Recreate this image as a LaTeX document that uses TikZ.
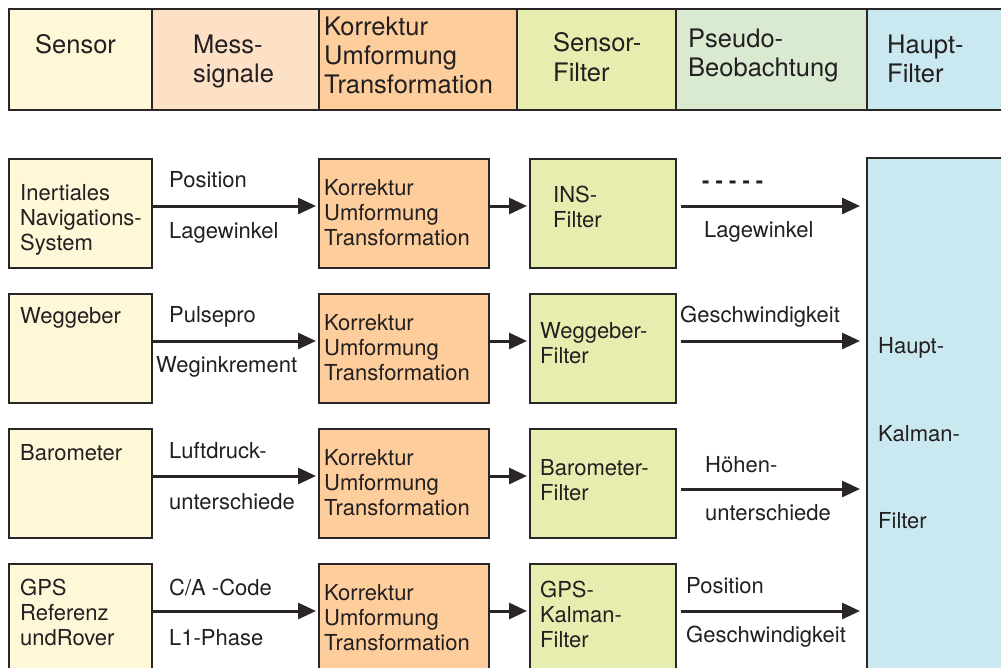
\documentclass[tikz,border=0pt]{standalone}
\usepackage{fontspec}
\setmainfont{TeX Gyre Heros}
\usetikzlibrary{arrows.meta}
\definecolor{cSens}{HTML}{FEF8D8}
\definecolor{cMess}{HTML}{FDE1C6}
\definecolor{cKorr}{HTML}{FDCD9B}
\definecolor{cFilt}{HTML}{E7EDAF}
\definecolor{cPseu}{HTML}{D9EAD1}
\definecolor{cHaup}{HTML}{C9E8EF}
\definecolor{lc}{HTML}{2A2627}
\definecolor{tc}{HTML}{231F20}
\begin{document}
\begin{tikzpicture}[x=1pt,y=-1pt,
  box/.style={draw=lc, line width=1.8pt, anchor=north west, inner sep=0pt},
  txt/.style={anchor=base west, inner sep=0pt, text=tc, font=\fontsize{22}{25}\selectfont},
  htxt/.style={anchor=base west, inner sep=0pt, text=tc, font=\fontsize{25.5}{29}\selectfont},
  arr/.style={line width=3pt, draw=lc, -{Triangle[length=18pt,width=16pt]}}]
\useasboundingbox (0,0) rectangle (1001,667);
% header
\node[box, fill=cSens, minimum width=143, minimum height=101] (h1) at (8,8) {};
\node[box, fill=cMess, minimum width=167, minimum height=101] (h2) at (151,8) {};
\node[box, fill=cKorr, minimum width=198, minimum height=101] (h3) at (318,8) {};
\node[box, fill=cFilt, minimum width=159, minimum height=101] (h4) at (516,8) {};
\node[box, fill=cPseu, minimum width=191, minimum height=101] (h5) at (675,8) {};
\node[box, fill=cHaup, minimum width=150, minimum height=101] (h6) at (866,8) {};
\foreach \x/\y/\t [count=\i] in {35/53/Sensor, 193/53/Mess-, 193/82/signale,
  324/35/Korrektur, 324/64/Umformung, 324/93/Transformation,
  553/51/Sensor-, 553/81/Filter, 688/47/Pseudo-, 688/76/Beobachtung,
  887/53/Haupt-, 887/82/Filter}
  \node[htxt] (ht\i) at (\x,\y) {\t};
% main filter
\node[box, fill=cHaup, minimum width=150, minimum height=520] (m) at (866,157) {};
% rows
\foreach \r/\top in {1/158, 2/293, 3/428, 4/563} {
  \node[box, fill=cSens, minimum width=143, minimum height=109] (s\r) at (8,\top) {};
  \node[box, fill=cKorr, minimum width=170, minimum height=109] (k\r) at (318,\top) {};
  \node[box, fill=cFilt, minimum width=146, minimum height=109] (f\r) at (529,\top) {};
  \node[txt] (ka\r) at (324,\top+37) {Korrektur};
  \node[txt] (kb\r) at (324,\top+62) {Umformung};
  \node[txt] (kc\r) at (324,\top+87) {Transformation};
  \draw[arr, shorten >=2pt] ([yshift=-48]s\r.north east) -- ([yshift=-48]k\r.north west);
  \draw[arr, shorten >=2pt] ([yshift=-48]k\r.north east) -- ([yshift=-48]f\r.north west);
}
\foreach \r/\d in {1/48, 2/48, 3/61, 4/48} {
  \coordinate (p\r) at ([yshift=-\d]f\r.north east);
  \draw[arr, shorten <=4pt, shorten >=6pt] (p\r) -- (p\r -| m.west);
}
\foreach \x/\y/\t [count=\i] in {20/200/Inertiales, 20/225/Navigations-, 20/250/System,
  169/187/Position, 169/238/Lagewinkel, 553/202/INS-, 553/227/Filter,
  704/237/Lagewinkel,
  20/323/Weggeber, 169/322/Pulsepro, 156/372/Weginkrement, 540/338/Weggeber-, 540/363/Filter,
  680/322/Geschwindigkeit,
  20/460/Barometer, 169/458/Luftdruck-, 169/509/unterschiede, 540/475/Barometer-, 540/500/Filter,
  705/472/Höhen-, 705/520/unterschiede,
  20/595/GPS, 20/620/Referenz, 20/645/undRover, 169/645/L1-Phase,
  540/597/GPS-, 540/622/Kalman-, 540/647/Filter, 686/593/Position, 686/642/Geschwindigkeit,
  878/353/Haupt-, 878/441/Kalman-, 878/528/Filter}
  \node[txt] (t\i) at (\x,\y) {\t};
\node[txt] (tca) at (169,595) {C/A -Code};
\node[txt, font=\fontsize{22}{25}\bfseries] (tdash) at (702,188) {- - - - -};
\end{tikzpicture}
\end{document}
